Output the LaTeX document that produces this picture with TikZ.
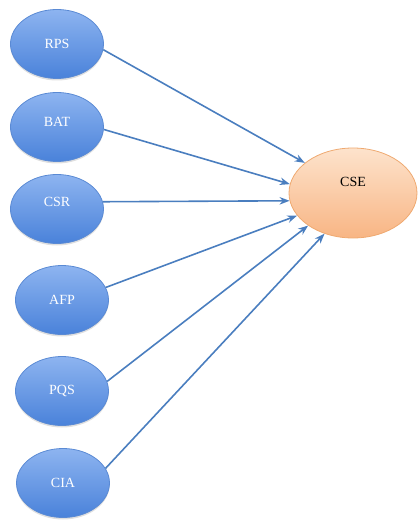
\documentclass[tikz,border=0pt]{standalone}
\usepackage{fontspec}
\setmainfont{Liberation Serif}
\usetikzlibrary{shapes.geometric,arrows.meta,shadows}
\definecolor{btop}{HTML}{8DB4F0}
\definecolor{bbot}{HTML}{4A82DA}
\definecolor{bline}{HTML}{5A8AD4}
\definecolor{otop}{HTML}{FDE3CC}
\definecolor{obot}{HTML}{F8B584}
\definecolor{oline}{HTML}{EFA970}
\definecolor{arr}{HTML}{4A7EBF}
\tikzset{
  bluenode/.style={ellipse, draw=bline, line width=0.8pt, top color=btop, bottom color=bbot,
    minimum width=93pt, minimum height=69pt, inner sep=0pt, text=white,
    font=\fontsize{14}{16}\selectfont,
    drop shadow={opacity=0.25, shadow xshift=0pt, shadow yshift=-2pt}},
  orangenode/.style={ellipse, draw=oline, line width=0.8pt, top color=otop, bottom color=obot,
    minimum width=128pt, minimum height=90pt, inner sep=0pt, text=black,
    font=\fontsize{14}{16}\selectfont},
  link/.style={draw=arr, line width=1.6pt, -{Stealth[length=10pt,width=7.5pt]}}
}
\begin{document}
\begin{tikzpicture}[x=1pt,y=-1pt]
\useasboundingbox (0,0) rectangle (418,521);
\node[bluenode] (rps) at (57,44) {RPS};
\node[bluenode, text depth=10pt] (bat) at (57,127) {BAT};
\node[bluenode, text depth=14pt] (csr) at (57,209) {CSR};
\node[bluenode] (afp) at (62,300) {AFP};
\node[bluenode] (pqs) at (62,391) {PQS};
\node[bluenode] (cia) at (63,483) {CIA};
\node[orangenode, text depth=22pt] (cse) at (353,193) {CSE};
\draw[link] (rps.-7) -- (cse.148);
\draw[link] (bat.-3) -- (cse.172);
\draw[link] (csr.9) -- (cse.187);
\draw[link] (afp.16) -- (cse.202);
\draw[link] (pqs.12) -- (cse.216);
\draw[link] (cia.19) -- (cse.235);
\end{tikzpicture}
\end{document}
